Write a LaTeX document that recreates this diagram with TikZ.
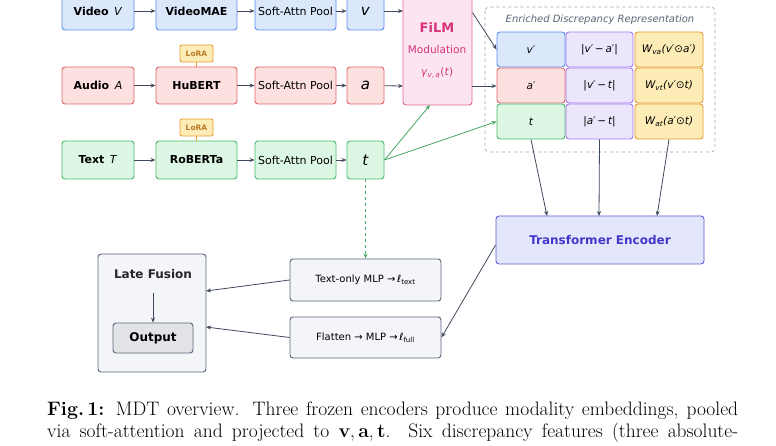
\documentclass[tikz,border=0pt]{standalone}
\usepackage{fontspec}
\setmainfont{DejaVu Sans}
\newfontfamily\serifcap{Latin Modern Roman}
\usetikzlibrary{arrows.meta}
\definecolor{bF}{HTML}{DBE8FC}\definecolor{bS}{HTML}{5B8DEF}
\definecolor{rF}{HTML}{FDE0E0}\definecolor{rS}{HTML}{E06666}
\definecolor{gF}{HTML}{DCF7E3}\definecolor{gS}{HTML}{4CBA6C}
\definecolor{pF}{HTML}{ECE6FD}\definecolor{pS}{HTML}{A27AF0}
\definecolor{oF}{HTML}{FDECB5}\definecolor{oS}{HTML}{E69A30}
\definecolor{fF}{HTML}{FDE4F1}\definecolor{fS}{HTML}{E0609A}\definecolor{fT}{HTML}{D6337A}
\definecolor{kF}{HTML}{F3F5F9}\definecolor{kS}{HTML}{5A6478}
\definecolor{tF}{HTML}{E4E6FB}\definecolor{tS}{HTML}{5A5FD0}\definecolor{tT}{HTML}{4338CA}
\definecolor{ar}{HTML}{3F4A5C}
\tikzset{
 bx/.style={draw, rounded corners=3pt, line width=0.9pt, inner sep=0pt, font=\fontsize{11}{13}\selectfont},
 blu/.style={bx, fill=bF, draw=bS}, red/.style={bx, fill=rF, draw=rS}, grn/.style={bx, fill=gF, draw=gS},
 pur/.style={bx, fill=pF, draw=pS}, org/.style={bx, fill=oF, draw=oS}, gry/.style={bx, fill=kF, draw=kS},
 lora/.style={bx, fill=oF, draw=oS, text=oS!80!black, font=\fontsize{7.5}{8}\selectfont\bfseries, rounded corners=2pt},
 arr/.style={-{Stealth[length=5pt,width=4pt]}, draw=ar, line width=0.8pt},
 garr/.style={-{Stealth[length=5pt,width=4pt]}, draw=gS!90!black, line width=0.8pt},
}
\newcommand{\bxat}[5]{\node[#1, minimum width=#4-#2, minimum height=#5-#3] at ({(#2+#4)/2},{(#3+#5)/2})}
\newcommand{\ssub}[1]{\textsubscript{#1}}
\begin{document}
\begin{tikzpicture}[x=1pt,y=-1pt]
\useasboundingbox (0,0) rectangle (776,446);
% row 1
\bxat{blu}{62}{-8}{134}{30} (vid) {\textbf{Video}\enspace\textit{V}};
\bxat{blu}{156}{-8}{237}{30} (vmae) {\textbf{VideoMAE}};
\bxat{blu}{255}{-8}{336}{30} (p1) {Soft-Attn Pool};
\bxat{blu}{347}{-8}{384}{30} (v) {\fontsize{15}{15}\selectfont\textit{v}};
% row 2
\bxat{red}{62}{67}{134}{104} (aud) {\textbf{Audio}\enspace\textit{A}};
\bxat{red}{156}{67}{237}{104} (hub) {\textbf{HuBERT}};
\bxat{red}{255}{67}{336}{104} (p2) {Soft-Attn Pool};
\bxat{red}{347}{67}{384}{104} (a) {\fontsize{15}{15}\selectfont\textit{a}};
% row 3
\bxat{grn}{62}{141}{134}{179} (txt) {\textbf{Text}\enspace\textit{T}};
\bxat{grn}{156}{141}{237}{179} (rob) {\textbf{RoBERTa}};
\bxat{grn}{255}{141}{336}{179} (p3) {Soft-Attn Pool};
\bxat{grn}{347}{141}{384}{179} (t) {\fontsize{15}{15}\selectfont\textit{t}};
% LoRA
\bxat{lora}{180}{45}{213}{62} (l1) {LoRA};
\bxat{lora}{180}{119}{213}{136} (l2) {LoRA};
\draw[oS, line width=0.7pt] (l1.south) -- (hub.north);
\draw[oS, line width=0.7pt] (l2.south) -- (rob.north);
\foreach \x/\y in {vid/vmae,vmae/p1,p1/v,aud/hub,hub/p2,p2/a,txt/rob,rob/p3,p3/t} \draw[arr] (\x) -- (\y);
% FiLM
\bxat{bx, fill=fF, draw=fS}{403}{-5}{472}{105} (film) {};
\node[text=fT, font=\fontsize{13}{13}\selectfont\bfseries] (fl1) at (437,28) {FiLM};
\node[text=fT, font=\fontsize{10.5}{10}\selectfont] (fl2) at (437,50) {Modulation};
\node[text=fT, font=\fontsize{10.5}{10}\selectfont] (fl3) at (437,73) {\textit{γ}\ssub{\textit{v},\,\textit{a}}(\textit{t})};
\coordinate (fin1) at (403,11); \coordinate (fin2) at (403,86);
\draw[arr] (v) -- (fin1);
\draw[arr] (a) -- (fin2);
% Enriched box
\draw[kS!60, dashed, rounded corners=4pt, line width=0.7pt] (485,7) rectangle (715,152);
\node[text=kS, font=\fontsize{10}{10}\selectfont\itshape] (etitle) at (600,20) {Enriched Discrepancy Representation};
\tikzset{cell/.style={font=\fontsize{10.5}{11}\selectfont\itshape}}
\bxat{blu,cell}{497}{32}{565}{67} (c11) {v′};
\bxat{pur,cell}{566}{32}{633}{67} (c12) {|v′\,−\,a′|};
\bxat{org,cell}{635}{32}{703}{67} (c13) {W\ssub{va}(v′⊙a′)};
\bxat{red,cell}{497}{68}{565}{103} (c21) {a′};
\bxat{pur,cell}{566}{68}{633}{103} (c22) {|v′\,−\,t|};
\bxat{org,cell}{635}{68}{703}{103} (c23) {W\ssub{vt}(v′⊙t)};
\bxat{grn,cell}{497}{104}{565}{139} (c31) {t};
\bxat{pur,cell}{566}{104}{633}{139} (c32) {|a′\,−\,t|};
\bxat{org,cell}{635}{104}{703}{139} (c33) {W\ssub{at}(a′⊙t)};
\draw[arr] (film.north east) ++(0,18) -- (c11.west);
\draw[arr] (fin2 -| film.east) -- (fin2 -| c21.west);
\draw[garr] (t.east) -- (430,105);
\draw[garr] (t.east) -- (c31.west);
% Transformer
\bxat{bx, fill=tF, draw=tS}{496}{216}{704}{264} (tr) {\fontsize{12}{13}\selectfont\bfseries\color{tT}Transformer Encoder};
\draw[arr] (c31.south) -- (547,216);
\draw[arr] (c32.south) -- (599,216);
\draw[arr] (c33.south) -- (657,216);
% MLPs
\bxat{gry}{290}{259}{441}{301} (mlp1) {\fontsize{10}{11}\selectfont Text-only MLP →\,\textit{ℓ}\ssub{text}};
\bxat{gry}{290}{317}{441}{358} (mlp2) {\fontsize{10}{11}\selectfont Flatten → MLP →\,\textit{ℓ}\ssub{full}};
\draw[-{Stealth[length=5pt,width=4pt]}, draw=gS!90!black, line width=0.8pt, dashed] (t.south) -- (mlp1.north);
\draw[arr] (tr.west) ++(0,5) -- (mlp2.east);
% Late fusion
\bxat{gry}{98}{254}{206}{372} (lf) {};
\node[font=\fontsize{12}{13}\selectfont\bfseries, text=black!85] (lft) at (153,274) {Late Fusion};
\bxat{bx, fill=kS!18, draw=kS}{113}{323}{193}{353} (out) {\fontsize{12}{13}\selectfont\textbf{Output}};
\draw[arr] (153,293) -- (out.north);
\draw[arr] (mlp1.west) -- (206,291);
\draw[arr] (mlp2.west) -- (206,327);
% caption
\node[anchor=north west, inner sep=0pt, align=left, font=\serifcap\fontsize{19.5}{22}\selectfont] (cap) at (47,402)
{\makebox[691pt][s]{\textbf{Fig.\,1:} MDT overview. Three frozen encoders produce modality embeddings, pooled}\\
\makebox[691pt][s]{via soft-attention and projected to \textbf{v},\,\textbf{a},\,\textbf{t}. Six discrepancy features (three absolute-}};
\end{tikzpicture}
\end{document}
